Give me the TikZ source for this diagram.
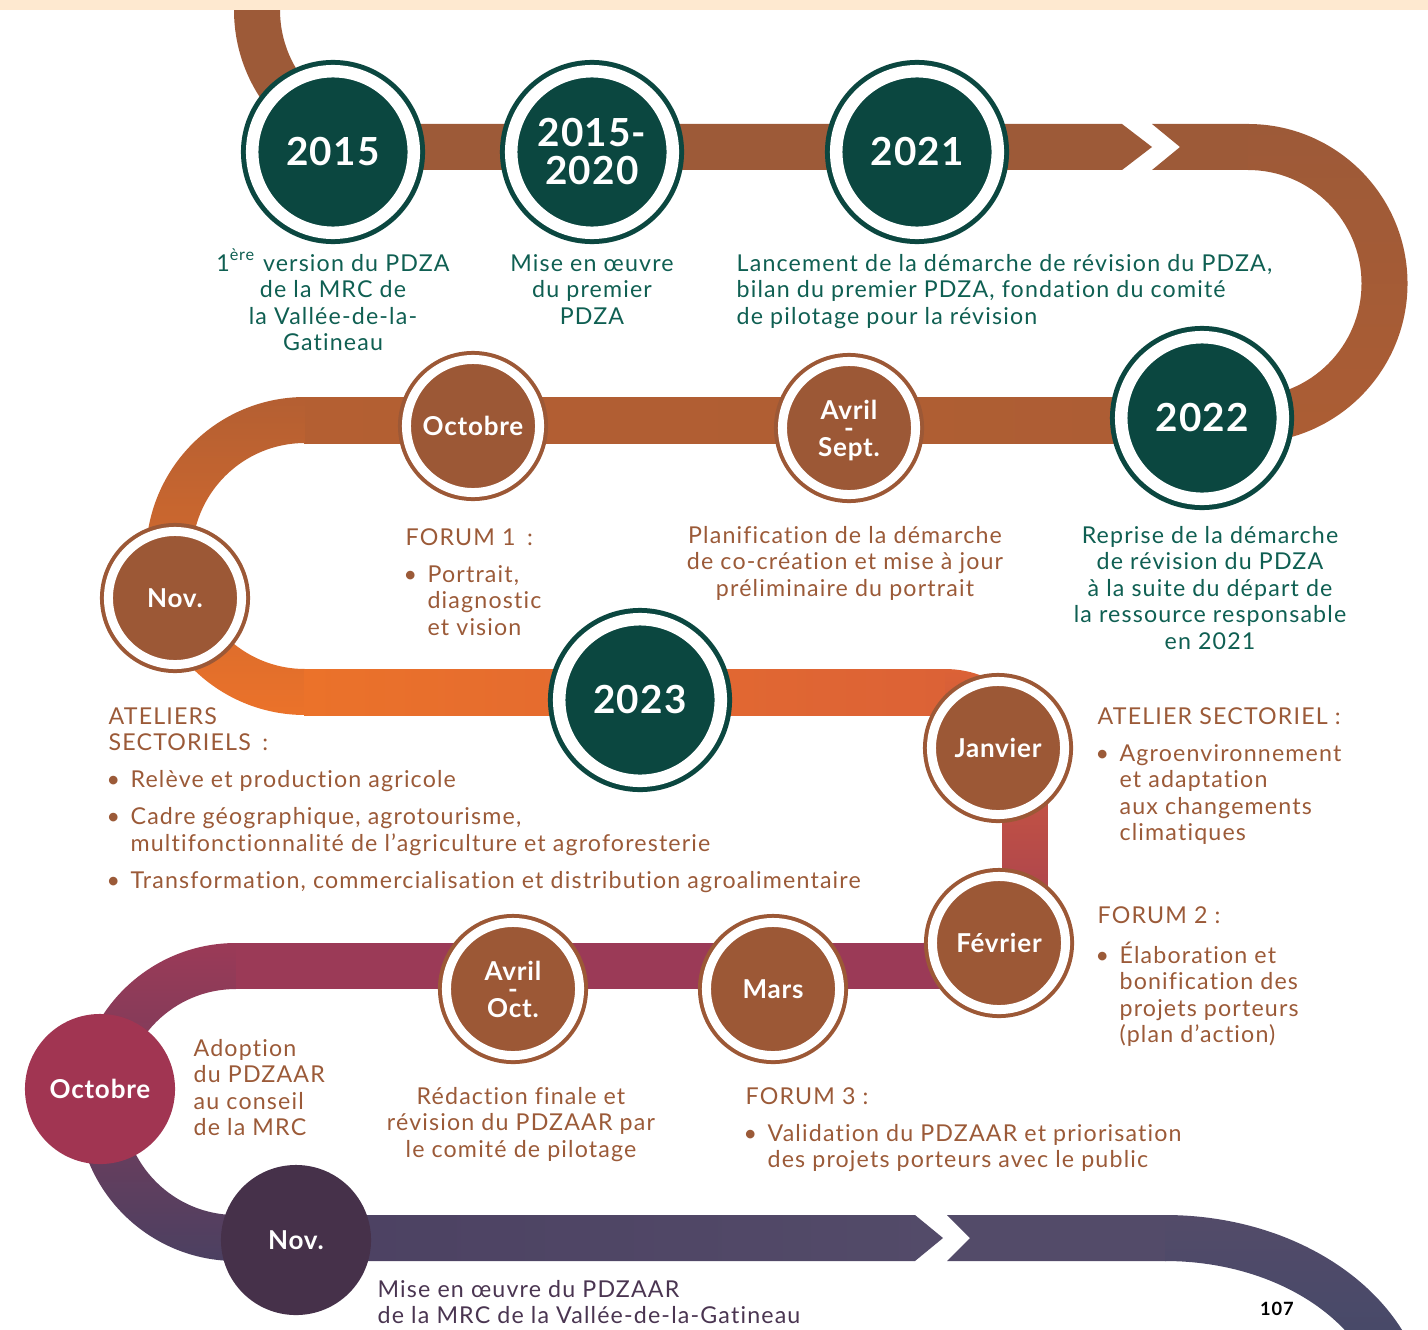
\documentclass[tikz,border=0pt]{standalone}
\usepackage{fontspec}
\setmainfont{Lato}[LetterSpace=5, Ligatures=NoCommon]
\newfontfamily\lblfont{Lato}[LetterSpace=3, Ligatures=NoCommon]
\usepackage{xcolor}
\definecolor{pdgreen}{HTML}{0B4740}
\definecolor{txtgreen}{HTML}{0F5F52}
\definecolor{pdbrown}{HTML}{9C5836}
\definecolor{txtbrown}{HTML}{9B5A38}
\definecolor{pdplum}{HTML}{A13552}
\definecolor{pdaub}{HTML}{46314A}
\definecolor{txtaub}{HTML}{4A3551}
\definecolor{peach}{HTML}{FEE9D0}
% road colours, from top to bottom
\definecolor{rdA}{HTML}{9D5A38}
\definecolor{rdB}{HTML}{AC5D34}
\definecolor{rdC}{HTML}{B45F32}
\definecolor{rdD}{HTML}{EB722A}
\definecolor{rdE}{HTML}{DC6236}
\definecolor{rdF}{HTML}{9B3A57}
\definecolor{rdG}{HTML}{4B4061}
\definecolor{rdH}{HTML}{534B69}
\definecolor{rdI}{HTML}{3F4868}
\newcommand\tlbody{\fontsize{6.6}{7.55}\selectfont}
\newcommand\ctext[1]{\begin{tabular}[t]{@{}c@{}}#1\end{tabular}}
\newcommand\ltext[1]{\begin{tabular}[t]{@{}l@{}}#1\end{tabular}}
\newcommand\blist[2]{\begin{tabular}[t]{@{\hspace{-0.6pt}}l@{\hspace{3pt}}l@{}}\multicolumn{2}{@{}l@{}}{#1}\\[3pt]#2\end{tabular}}
% two months with a small dash between them
\newcommand\mrange[2]{#1\\[2.5pt]\ooalign{#2\cr\hidewidth\raisebox{5.4pt}{-}\hidewidth\cr}}
\tikzset{
  yearnode/.style={circle, fill=pdgreen, draw=pdgreen, line width=0.05cm, double=white,
    double distance=0.125cm, minimum size=1.615cm, inner sep=0, align=center, text=white,
    font=\lblfont\bfseries\fontsize{11}{10.8}\selectfont},
  monthnode/.style={circle, fill=pdbrown, draw=pdbrown, line width=0.04cm, double=white,
    double distance=0.09cm, minimum size=1.33cm, inner sep=0, align=center, text=white,
    font=\lblfont\bfseries\fontsize{7.4}{8}\selectfont},
  solidnode/.style={circle, minimum size=1.5cm, inner sep=0, text=white,
    font=\lblfont\bfseries\fontsize{7.4}{8}\selectfont},
  greentxt/.style={anchor=base, inner sep=0, text=txtgreen, font=\tlbody},
  browntxt/.style={anchor=base, inner sep=0, text=txtbrown, font=\tlbody},
}

\begin{document}
\begin{tikzpicture}[x=0.01cm, y=0.01cm]
  \useasboundingbox (0,0) rectangle (1428,1329);
  \clip (0,0) rectangle (1428,1329);
  % the road
  \fill[rdA] (234,1329) -- (234,1319) arc[start angle=180, end angle=270, radius=160]
    -- (394,1205) arc[start angle=270, end angle=180, radius=114] -- (280,1329) -- cycle;
  \fill[rdA] (393,1159) -- (1122,1159) -- (1152,1182) -- (1122,1205) -- (393,1205) -- cycle;
  \fill[rdA] (1152,1159) -- (1249,1159) -- (1249,1205) -- (1152,1205) -- (1180,1182) -- cycle;
  \shade[top color=rdA, bottom color=rdB] (1248,1205) arc[start angle=90, end angle=-90, radius=159.5]
    -- (1248,932) arc[start angle=-90, end angle=90, radius=113.5] -- cycle;
  \shade[left color=rdC, right color=rdB] (304,886) rectangle (1249,932);
  \shade[top color=rdC, bottom color=rdD] (305,932) arc[start angle=90, end angle=270, radius=159]
    -- (305,660) arc[start angle=270, end angle=90, radius=113] -- cycle;
  \shade[left color=rdD, right color=rdE] (304,614) rectangle (946,660);
  \shade[top color=rdE, bottom color=rdF] (945,660) arc[start angle=90, end angle=0, radius=103]
    -- (1048,443) arc[start angle=0, end angle=-90, radius=103]
    -- (945,386) arc[start angle=-90, end angle=0, radius=57]
    -- (1002,557) arc[start angle=0, end angle=90, radius=57] -- cycle;
  \fill[rdF] (235,340) rectangle (946,386);
  \shade[top color=rdF, bottom color=rdG] (236,386) arc[start angle=90, end angle=270, radius=159]
    -- (236,114) arc[start angle=270, end angle=90, radius=113] -- cycle;
  \shade[left color=rdG, right color=rdH] (235,68) -- (915,68) -- (943,91) -- (915,114) -- (235,114) -- cycle;
  \fill[rdH] (947,68) -- (1166,68) -- (1166,114) -- (947,114) -- (970,91) -- cycle;
  \shade[top color=rdH, bottom color=rdI] (1165,114) arc[start angle=90, end angle=0, x radius=263, y radius=203]
    -- (1382,-89) arc[start angle=0, end angle=90, x radius=217, y radius=157] -- cycle;
  \fill[peach] (0,1319) rectangle (1428,1329);

  % stations
  \foreach \nm/\pos/\txt in {y2015/{333,1177}/2015, y1520/{592,1177}/{2015-\\2020},
      y2021/{917,1177}/2021, y2022/{1202,911}/2022, y2023/{640,629}/2023}
    \node[yearnode] (\nm) at (\pos) {\txt};
  \foreach \nm/\pos/\txt in {octA/{473,903}/Octobre, avsep/{849,901}/{\mrange{Avril}{Sept.}},
      novA/{175,731}/Nov., janv/{998,581}/Janvier, fevr/{999,386}/Février, mars/{773,340}/Mars,
      avoct/{513,340}/{\mrange{Avril}{Oct.}}}
    \node[monthnode] (\nm) at (\pos) {\txt};
  \node[solidnode, fill=pdplum] (octB) at (100,240) {Octobre};
  \node[solidnode, fill=pdaub] (novB) at (296,89) {Nov.};

  % texts
  \node[greentxt] (t2015) at (333,1058) {\ctext{1\textsuperscript{ère} version du PDZA\\de la MRC de\\la Vallée-de-la-\\Gatineau}};
  \node[greentxt] (t1520) at (592,1058) {\ctext{Mise en œuvre\\du premier\\PDZA}};
  \node[greentxt, anchor=base west] (t2021) at (736,1058) {\ltext{Lancement de la démarche de révision du PDZA,\\bilan du premier PDZA, fondation du comité\\de pilotage pour la révision}};
  \node[greentxt] (t2022) at (1210,786) {\ctext{Reprise de la démarche\\de révision du PDZA\\à la suite du départ de\\la ressource responsable\\en 2021}};
  \node[browntxt, anchor=base west] (tforum1) at (405,784) {\blist{FORUM 1\enspace:}{\textbullet & Portrait,\\ & diagnostic\\ & et vision}};
  \node[browntxt] (tplan) at (845,786) {\ctext{Planification de la démarche\\de co-création et mise à jour\\préliminaire du portrait}};
  \node[browntxt, anchor=base west] (tateliers) at (108,605) {\begin{tabular}[t]{@{\hspace{-0.6pt}}l@{\hspace{3pt}}l@{}}
    \multicolumn{2}{@{}l@{}}{ATELIERS}\\ \multicolumn{2}{@{}l@{}}{SECTORIELS\enspace:}\\[3pt]
    \textbullet & Relève et production agricole\\[3pt]
    \textbullet & Cadre géographique, agrotourisme,\\ & multifonctionnalité de l’agriculture et agroforesterie\\[3pt]
    \textbullet & Transformation, commercialisation et distribution agroalimentaire\end{tabular}};
  \node[browntxt, anchor=base west] (tatelier) at (1097,605) {\blist{ATELIER SECTORIEL :}{\textbullet & Agroenvironnement\\ & et adaptation\\ & aux changements\\ & climatiques}};
  \node[browntxt, anchor=base west] (tforum2) at (1097,406) {\blist{FORUM 2 :}{\textbullet & Élaboration et\\ & bonification des\\ & projets porteurs\\ & (plan d’action)}};
  \node[browntxt, anchor=base west] (tadopt) at (193,273) {\ltext{Adoption\\du PDZAAR\\au conseil\\de la MRC}};
  \node[browntxt] (tredac) at (521,225) {\ctext{Rédaction finale et\\révision du PDZAAR par\\le comité de pilotage}};
  \node[browntxt, anchor=base west] (tforum3) at (745,225) {\blist{FORUM 3 :}{\textbullet & Validation du PDZAAR et priorisation\\ & des projets porteurs avec le public}};
  \node[browntxt, text=txtaub, anchor=base west] (tmise) at (377,32) {\ltext{Mise en œuvre du PDZAAR\\de la MRC de la Vallée-de-la-Gatineau}};
  \node[anchor=base, inner sep=0, font=\bfseries\fontsize{5.2}{6}\selectfont] (page) at (1277,14) {107};
\end{tikzpicture}
\end{document}
